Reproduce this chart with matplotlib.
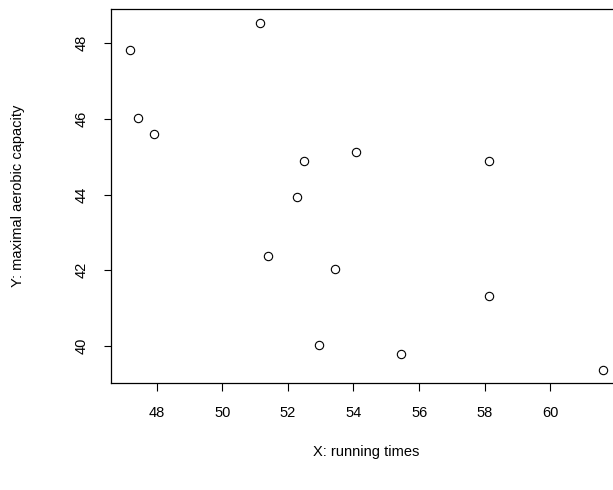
import matplotlib
matplotlib.use("Agg")
from matplotlib import pyplot as plt
import numpy as np

plt.rcParams["font.family"] = ["Liberation Sans", "DejaVu Sans"]

# running times (min) and maximal aerobic capacity
run_time = [47.20, 51.15, 47.44, 47.92, 52.49, 52.29, 54.08,
            58.12, 53.45, 58.14, 52.96, 55.46, 61.59, 51.41]
aerobic = [47.82, 48.54, 46.02, 45.59, 44.89, 43.94, 45.12,
           44.89, 42.03, 41.31, 40.03, 39.79, 39.38, 42.37]

x_ticks = [48, 50, 52, 54, 56, 58, 60]
y_ticks = [40, 42, 44, 46, 48]

x = np.array(run_time)
y = np.array(aerobic)

fig = plt.figure(figsize=(6.13, 4.9), dpi=100)
# plot region runs a little past the right edge of the canvas
ax = fig.add_axes([0.1817, 0.2176, 0.8322, 0.7643])

ax.plot(x, y, linestyle="none", marker="o", markersize=6,
        markerfacecolor="none", markeredgecolor="black", markeredgewidth=0.8)

# R style 4% padding around the data range
xr = x.max() - x.min()
yr = y.max() - y.min()
ax.set_xlim(x.min() - 0.04 * xr, x.max() + 0.04 * xr)
ax.set_ylim(y.min() - 0.04 * yr, y.max() + 0.04 * yr)

ax.set_xticks(x_ticks)
ax.set_yticks(y_ticks)
ax.tick_params(direction="out", length=5.4, width=0.8, labelsize=10.5,
               pad=11, color="black")
for lab in ax.get_yticklabels():
    lab.set_rotation(90)
    lab.set_va("center")

for s in ax.spines.values():
    s.set_linewidth(0.9)

ax.set_xlabel("X: running times", fontsize=10.5)
ax.set_ylabel("Y: maximal aerobic capacity", fontsize=10.5)
ax.xaxis.label.set_va("center")
ax.yaxis.label.set_va("center")
ax.xaxis.set_label_coords(0.5, -0.183)
ax.yaxis.set_label_coords(-0.183, 0.5)

fig.savefig("out.png", dpi=100)
